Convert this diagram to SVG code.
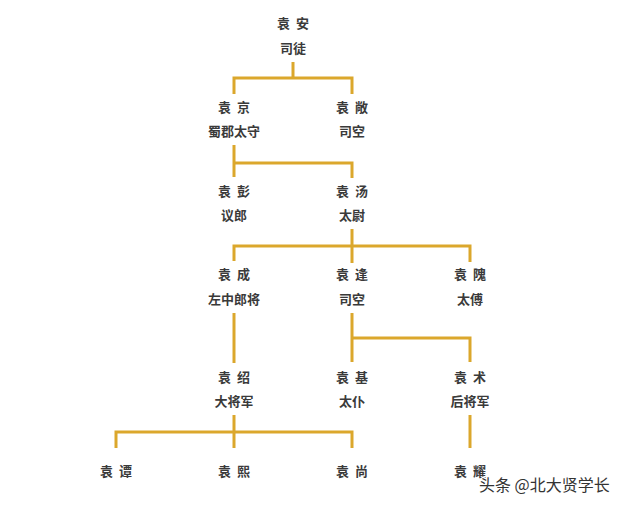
<svg xmlns="http://www.w3.org/2000/svg" width="621" height="506" viewBox="0 0 621 506">
<style>
.t{font-family:"Noto Sans CJK SC","Noto Sans CJK JP",sans-serif;font-size:13px;font-weight:700;fill:#3a3a3a;text-anchor:middle;dominant-baseline:central;word-spacing:3px}
.c{fill:none;stroke:#dba72c;stroke-width:3;stroke-linejoin:miter;stroke-linecap:butt}
.w{font-family:"Noto Sans CJK SC",sans-serif;font-size:16px;fill:#333;stroke:#fff;stroke-width:2.5;paint-order:stroke;text-anchor:start;dominant-baseline:central}
</style>
<rect width="621" height="506" fill="#fff"/>
<g id="connectors">
<path class="c" d="M293 62V78M234 94V78H352V94"/>
<path class="c" d="M234 145V177M234 163H352V178"/>
<path class="c" d="M352 229V263M234 261V246H470V262"/>
<path class="c" d="M234 313V363"/>
<path class="c" d="M352 313V362M352 338H470V362"/>
<path class="c" d="M234 415V448M116 448V432H352V448"/>
<path class="c" d="M470 415V448"/>
</g>
<g id="yuanan"><text class="t" x="293" y="22">袁 安</text><text class="t" x="293" y="47">司徒</text></g>
<g id="yuanjing"><text class="t" x="234" y="106">袁 京</text><text class="t" x="234" y="130">蜀郡太守</text></g>
<g id="yuanchang"><text class="t" x="352" y="106">袁 敞</text><text class="t" x="352" y="130">司空</text></g>
<g id="yuanpeng"><text class="t" x="234" y="190">袁 彭</text><text class="t" x="234" y="214">议郎</text></g>
<g id="yuantang"><text class="t" x="352" y="190">袁 汤</text><text class="t" x="352" y="214">太尉</text></g>
<g id="yuancheng"><text class="t" x="234" y="273">袁 成</text><text class="t" x="234" y="298">左中郎将</text></g>
<g id="yuanfeng"><text class="t" x="352" y="273">袁 逢</text><text class="t" x="352" y="298">司空</text></g>
<g id="yuanwei"><text class="t" x="470" y="273">袁 隗</text><text class="t" x="470" y="298">太傅</text></g>
<g id="yuanshao"><text class="t" x="234" y="376">袁 绍</text><text class="t" x="234" y="400">大将军</text></g>
<g id="yuanji"><text class="t" x="352" y="376">袁 基</text><text class="t" x="352" y="400">太仆</text></g>
<g id="yuanshu"><text class="t" x="470" y="376">袁 术</text><text class="t" x="470" y="400">后将军</text></g>
<g id="yuantan"><text class="t" x="116" y="470">袁 谭</text></g>
<g id="yuanxi"><text class="t" x="234" y="470">袁 熙</text></g>
<g id="yuanshang"><text class="t" x="352" y="470">袁 尚</text></g>
<g id="yuanyao"><text class="t" x="470" y="470">袁 耀</text></g>
<text class="w" x="479" y="484">头条 @北大贤学长</text>
</svg>
